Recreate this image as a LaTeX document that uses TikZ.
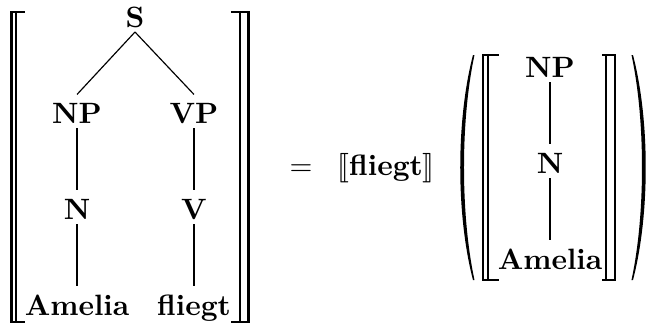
\documentclass[tikz,border=0pt]{standalone}
\usepackage{stmaryrd}
\newcommand{\drawbrack}[5]{
  \draw[brack] (#3, #4) -- (#1, #4) -- (#1, #5) -- (#3, #5);
  \draw[brack] (#2, #4) -- (#2, #5);
}
\newcommand{\drawparen}[2]{
  \fill[shift={(#1, 0)}, xscale=#2] (0, 55) .. controls (-17, 120) and (-17, 215) .. (0, 280)
    -- (1.5, 280) .. controls (-12.5, 215) and (-12.5, 120) .. (1.5, 55) -- cycle;
}
\tikzset{
  cat/.style={font=\bfseries, inner sep=0, anchor=base, text height=9.5pt, text depth=1.5pt},
  branch/.style={line width=.4pt},
  brack/.style={line width=.7pt}
}

\begin{document}
\begin{tikzpicture}[x=.34pt, y=-.34pt]
  \useasboundingbox (0, 0) rectangle (647, 324);
  \node[cat] (s) at (135, 27) {S};
  \node[cat] (np) at (77, 123) {NP};
  \node[cat] (vp) at (194, 123) {VP};
  \node[cat] (n) at (77, 219) {N};
  \node[cat] (v) at (194, 219) {V};
  \node[cat] (amelia) at (77, 315) {Amelia};
  \node[cat] (fliegt) at (194, 315) {fliegt};
  \draw[branch] (s.south) -- (np.north);
  \draw[branch] (s.south) -- (vp.north);
  \draw[branch] (np) -- (n);
  \draw[branch] (n) -- (amelia);
  \draw[branch] (vp) -- (v);
  \draw[branch] (v) -- (fliegt);
  \drawbrack{11.5}{16}{25}{12}{322}
  \drawbrack{248.5}{240}{231}{12}{322}
  \node[anchor=base] (eq) at (301, 175.5) {$=$};
  \node[anchor=base] (fun) at (386, 175.5) {$\llbracket$\textbf{fliegt}$\rrbracket$};
  % argument
  \node[cat] (np2) at (550, 77) {NP};
  \node[cat] (n2) at (550, 173) {N};
  \node[cat] (amelia2) at (550, 269) {Amelia};
  \draw[branch] (np2) -- (n2);
  \draw[branch] (n2) -- (amelia2);
  \drawbrack{483}{488}{499}{55}{280}
  \drawbrack{615}{606}{602}{55}{280}
  \drawparen{473}{1}
  \drawparen{633}{-1}
\end{tikzpicture}
\end{document}
